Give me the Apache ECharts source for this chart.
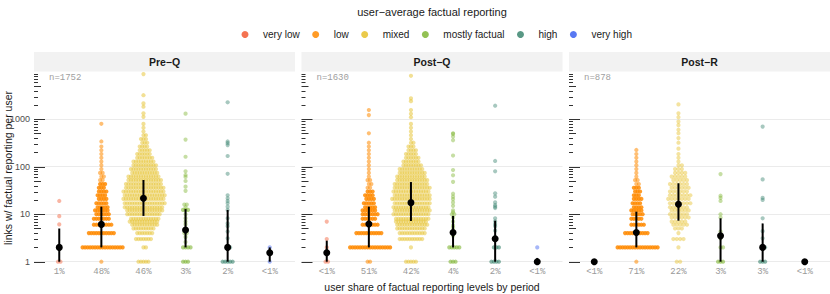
<!DOCTYPE html>
<html><head><meta charset="utf-8">
<script src="https://cdn.jsdelivr.net/npm/echarts@6/dist/echarts.min.js"></script>
<style>html,body{margin:0;padding:0;background:#fff}#c{width:830px;height:294px}</style>
</head><body><div id="c"></div>
<script>
// ---------- DATA ----------
const levels = ['very low', 'low', 'mixed', 'mostly factual', 'high', 'very high'];
const periods = ['Pre−Q', 'Post−Q', 'Post−R'];
const nUsers = [1752, 1630, 878];
const preQ_share = ['1%', '48%', '46%', '3%', '2%', '<1%'];
const postQ_share = ['<1%', '51%', '42%', '4%', '2%', '<1%'];
const postR_share = ['<1%', '71%', '22%', '3%', '3%', '<1%'];
const yTickLabels = [1, 10, 100, 1000];
const logTicks = [1,2,3,4,5,6,7,8,9,10,20,30,40,50,60,70,80,90,100,200,300,400,500,600,700,800,900,1000,2000,3000,4000,5000,6000,7000,8000,9000];

// swarm rows: [value, number of dots side by side]
const preQ_veryLow = [[1,2],[6.1,1],[9.1,1],[19,1]];
const preQ_low = [[1,1],[2,17],[4,11],[6,8],[8,7],[10,6],[12,6],[14,5],[17,5],[21,4],[25,4],[30,4],[36,3],[43,3],[52,2],[62,2],[74,2],[89,1],[107,1],[128,1],[154,1],[185,1],[222,1],[266,1],[340,1],[800,1]];
const preQ_mixed = [[1,5],[2,2],[3,7],[4,7],[5,9],[6,11],[7,12],[8,12],[10,14],[12,15],[14,16],[17,17],[21,17],[25,17],[30,17],[36,16],[43,15],[52,14],[62,13],[74,11],[89,11],[107,10],[128,9],[154,7],[185,6],[222,5],[266,4],[320,3],[383,3],[460,2],[552,1],[662,1],[795,1],[1120,1],[1330,1],[1830,1],[2150,1],[3200,1],[8900,1]];
const preQ_mostlyFactual = [[1,3],[2,4],[2.6,1],[3.3,1],[4,2],[5,1],[6.1,1],[7,1],[8.2,1],[10,1],[12.3,3],[14,1],[16,2],[31,1],[38,1],[50,1],[61,1],[67,1],[80,1],[162,1],[372,1],[1310,1]];
const preQ_high = [[1,5],[2,2],[3.1,1],[4.3,1],[5.6,1],[6.4,1],[8.2,1],[12.3,1],[14.4,1],[17,1],[19,1],[21.6,1],[25,1],[71,1],[168,1],[285,1],[313,1],[340,1],[2270,1]];
const preQ_veryHigh = [[1,1],[2,1]];

const postQ_veryLow = [[1,2],[2,1],[3,1],[7,1]];
const postQ_low = [[1,2],[2,17],[4,11],[6,7],[8,6],[10,7],[12,6],[14,5],[17,5],[21,4],[25,4],[30,3],[36,2],[43,2],[52,2],[62,1],[74,1],[89,1],[107,1],[128,1],[154,1],[185,1],[222,1],[266,1],[320,1],[505,1],[1220,1],[1560,1]];
const postQ_mixed = [[1,5],[2,1],[3,10],[4,11],[5,12],[6,13],[7,13],[8,14],[10,15],[12,15],[14,15],[17,15],[21,16],[25,15],[30,15],[36,15],[43,14],[52,13],[62,12],[74,11],[89,10],[107,8],[128,7],[154,6],[185,5],[222,4],[266,3],[320,2],[383,1],[460,1],[552,1],[662,1],[795,1],[1100,1],[1300,1],[1560,1],[2400,1],[2750,1],[8200,1]];
const postQ_mostlyFactual = [[1,3],[2,5],[3.5,1],[4.5,1],[5.2,1],[5.8,1],[7,1],[8.5,1],[10,2],[11,1],[12,1],[15,1],[17.7,1],[20.7,1],[23.5,1],[27,1],[48,1],[66,1],[85,1],[172,1],[360,1],[430,1],[490,1],[505,1]];
const postQ_high = [[1,4],[2,3],[3.1,1],[3.3,1],[4.5,1],[5.6,1],[6.2,1],[7.1,1],[8.2,1],[13.5,1],[14.4,1],[15.5,1],[17.7,1],[23.4,1],[27.5,1],[80,1],[132,1],[1920,1]];
const postQ_veryHigh = [[1,1],[2,1]];

const postR_veryLow = [[1,1]];
const postR_low = [[1,1],[2,17],[4,10],[6,6],[8,5],[10,5],[12,5],[14,4],[17,4],[21,4],[25,3],[30,3],[36,3],[43,2],[52,2],[62,1],[74,1],[89,1],[107,1],[128,1],[154,1],[185,1],[225,1]];
const postR_mixed = [[1,2],[2,1],[3,4],[4,1],[5,3],[6,5],[7,5],[8.5,6],[10,6],[12,6],[14,6],[17,7],[21,7],[25,7],[30,6],[36,6],[43,6],[52,5],[62,5],[74,4],[89,3],[107,2],[128,1],[154,1],[185,1],[240,1],[320,1],[400,1],[505,1],[600,1],[750,1],[890,1],[1100,1],[1330,1],[2050,1]];
const postR_mostlyFactual = [[1,3],[2,2],[3.1,1],[4.3,1],[8.5,1],[10,1],[19,1],[22,1],[24.5,1],[70,1]];
const postR_high = [[1,3],[2,2],[3.1,1],[4.4,1],[8.2,1],[20,1],[22,1],[54,1],[700,1]];
const postR_veryHigh = [[1,1]];

// summary points: median and interval per level
const preQ_median = [2, 6.1, 21.6, 4.65, 2, 1.55];
const preQ_lower  = [1, 2, 9.2, 2, 1, 1];
const preQ_upper  = [5, 14.4, 52.5, 12.8, 12.3, 2];
const postQ_median = [1.55, 6.2, 17.5, 4.1, 3.05, 1];
const postQ_lower  = [1, 2, 7.2, 2, 1, 1];
const postQ_upper  = [2.77, 14.4, 47.5, 9.2, 7.3, 1.2];
const postR_median = [1, 4.1, 16.2, 3.5, 2, 1];
const postR_lower  = [1, 2, 7.3, 1, 1, 1];
const postR_upper  = [1, 11.3, 44.8, 8.2, 6.4, 1];

// ---------- STYLE / LAYOUT ----------
const levelColors = {'very low':'#f25a32','low':'#ff8a00','mixed':'#e6c12c','mostly factual':'#80b636','high':'#3c8670','very high':'#3b60f0'};
const panelLeft = [34, 301.5, 569], panelW = 261, panelTop = 72, panelH = 192;
const SANS = '"Liberation Sans", Arial, sans-serif';
const MONO = '"Liberation Mono", "DejaVu Sans Mono", monospace';

const panelRows = [
  [preQ_veryLow, preQ_low, preQ_mixed, preQ_mostlyFactual, preQ_high, preQ_veryHigh],
  [postQ_veryLow, postQ_low, postQ_mixed, postQ_mostlyFactual, postQ_high, postQ_veryHigh],
  [postR_veryLow, postR_low, postR_mixed, postR_mostlyFactual, postR_high, postR_veryHigh]
];
const medians = [preQ_median, postQ_median, postR_median];
const lowers = [preQ_lower, postQ_lower, postR_lower];
const uppers = [preQ_upper, postQ_upper, postR_upper];
const shares = [preQ_share, postQ_share, postR_share];

function swarmStyle(p, c) {
  if (c === 1) return {spacing: 2.5, op: 0.55, dense: 0.85};
  if (c === 2 && p === 2) return {spacing: 3.4, op: 0.45, dense: 0.45};
  if (c === 2) return {spacing: 2.5, op: 0.5, dense: 0.5};
  return {spacing: 2.5, op: 0.45, dense: 0.6};
}

function makeSwarm(color, st) {
  return function (params, api) {
    const c = api.coord([api.value(0), api.value(1)]);
    const n = api.value(2);
    const op = n >= 3 ? st.dense : st.op;
    const shift = (n > 1 && params.dataIndex % 2 === 1) ? st.spacing / 2 : 0;
    const children = [];
    for (let i = 0; i < n; i++) {
      children.push({type: 'circle', shape: {cx: c[0] + (i - (n - 1) / 2) * st.spacing + shift, cy: c[1], r: 2.1},
        style: {fill: color, opacity: op}});
    }
    return {type: 'group', children};
  };
}

const grids = [], xAxes = [], yAxes = [], series = [], graphics = [];
for (let p = 0; p < 3; p++) {
  grids.push({left: panelLeft[p], top: panelTop, width: panelW, height: panelH, outerBoundsMode: 'none', containLabel: false});
  const lbls = shares[p];
  xAxes.push({type: 'value', gridIndex: p, min: -0.6, max: 5.6,
    axisLine: {show: false}, axisTick: {show: false}, splitLine: {show: false},
    axisLabel: {customValues: [0,1,2,3,4,5], formatter: v => lbls[Math.round(v)] || '', margin: 3,
      fontFamily: MONO, fontSize: 9, color: '#9a9a9a'}});
  yAxes.push({type: 'log', logBase: 10, gridIndex: p, min: 0.8945, max: 9855, splitNumber: 4,
    axisLine: {show: false}, axisTick: {show: false},
    splitLine: {show: true, showMinLine: false, showMaxLine: false, lineStyle: {color: '#ebebeb', width: 1}},
    axisLabel: {show: p === 0, customValues: yTickLabels, formatter: v => String(Math.round(v)), margin: 4,
      fontFamily: SANS, fontSize: 9, color: '#4d4d4d'}});

  // log ticks
  series.push({type: 'custom', xAxisIndex: p, yAxisIndex: p, silent: true, z: 1,
    data: logTicks.map(v => [-0.6, v]),
    renderItem: (params, api) => {
      const v = api.value(1);
      const c = api.coord([api.value(0), v]);
      const lg = Math.log10(v);
      const isDec = Math.abs(lg - Math.round(lg)) < 1e-6;
      const lead = Math.round(v / Math.pow(10, Math.floor(lg + 1e-9)));
      const len = isDec ? 11 : (lead === 5 ? 7 : 4);
      const y = Math.round(c[1]) + 0.5;
      return {type: 'line', shape: {x1: c[0], y1: y, x2: c[0] + len, y2: y}, style: {stroke: '#333', lineWidth: 1}};
    }});

  for (let c = 0; c < 6; c++) {
    const col = levelColors[levels[c]];
    series.push({type: 'custom', name: levels[c], xAxisIndex: p, yAxisIndex: p, silent: true, z: 2,
      itemStyle: {color: col}, dimensions: ['x', 'y', 'n'], encode: {x: 0, y: 1},
      data: panelRows[p][c].map(r => [c, r[0], r[1]]),
      renderItem: makeSwarm(col, swarmStyle(p, c))});
  }
  // interval bars
  series.push({type: 'custom', xAxisIndex: p, yAxisIndex: p, silent: true, z: 4,
    encode: {x: 0, y: [1, 2]},
    data: medians[p].map((m, c) => [c, lowers[p][c], uppers[p][c]]),
    renderItem: (params, api) => {
      const a = api.coord([api.value(0), api.value(1)]);
      const b = api.coord([api.value(0), api.value(2)]);
      return {type: 'line', shape: {x1: a[0], y1: a[1], x2: b[0], y2: b[1]}, style: {stroke: '#000', lineWidth: 2}};
    }});
  // medians
  series.push({type: 'scatter', xAxisIndex: p, yAxisIndex: p, silent: true, z: 5, symbolSize: 7,
    itemStyle: {color: '#000', opacity: 1}, data: medians[p].map((m, c) => [c, m])});

  // strip
  graphics.push({type: 'rect', shape: {x: panelLeft[p], y: 52, width: panelW, height: 19.5}, style: {fill: '#f2f2f2'}, silent: true});
  graphics.push({type: 'text', x: panelLeft[p] + panelW / 2, y: 62, silent: true,
    style: {text: periods[p], font: 'bold 10.5px ' + SANS, fill: '#1a1a1a', textAlign: 'center', textVerticalAlign: 'middle', align: 'center', verticalAlign: 'middle'}});
  graphics.push({type: 'text', x: panelLeft[p] + 15, y: 78, silent: true,
    style: {text: 'n=' + nUsers[p], font: '9px ' + MONO, fill: '#a0a0a0', textAlign: 'left', textVerticalAlign: 'middle', align: 'left', verticalAlign: 'middle'}});
}

graphics.push({type: 'text', x: 432, y: 12, silent: true,
  style: {text: 'user−average factual reporting', font: '11px ' + SANS, fill: '#1a1a1a', textAlign: 'center', textVerticalAlign: 'middle', align: 'center', verticalAlign: 'middle'}});
graphics.push({type: 'text', x: 432, y: 287, silent: true,
  style: {text: 'user share of factual reporting levels by period', font: '10.5px ' + SANS, fill: '#1a1a1a', textAlign: 'center', textVerticalAlign: 'middle', align: 'center', verticalAlign: 'middle'}});
graphics.push({type: 'text', x: 8, y: 168, rotation: Math.PI / 2, silent: true,
  style: {text: 'links w/ factual reporting per user', font: '10.5px ' + SANS, fill: '#1a1a1a', textAlign: 'center', textVerticalAlign: 'middle', align: 'center', verticalAlign: 'middle'}});

const chart = echarts.init(document.getElementById('c'), null, {renderer: 'svg', width: 830, height: 294});
chart.setOption({
  animation: false,
  backgroundColor: '#ffffff',
  grid: grids, xAxis: xAxes, yAxis: yAxes, series: series,
  legend: {left: 241.5, top: 29.5, padding: 0, itemWidth: 7, itemHeight: 7, itemGap: 12.5, selectedMode: false,
    textStyle: {fontFamily: SANS, fontSize: 10, color: '#1a1a1a', padding: [0, 0, 0, 9.5]},
    data: levels.map(l => ({name: l, icon: 'circle', itemStyle: {color: levelColors[l], opacity: 0.85}}))},
  graphic: graphics
});
</script></body></html>
